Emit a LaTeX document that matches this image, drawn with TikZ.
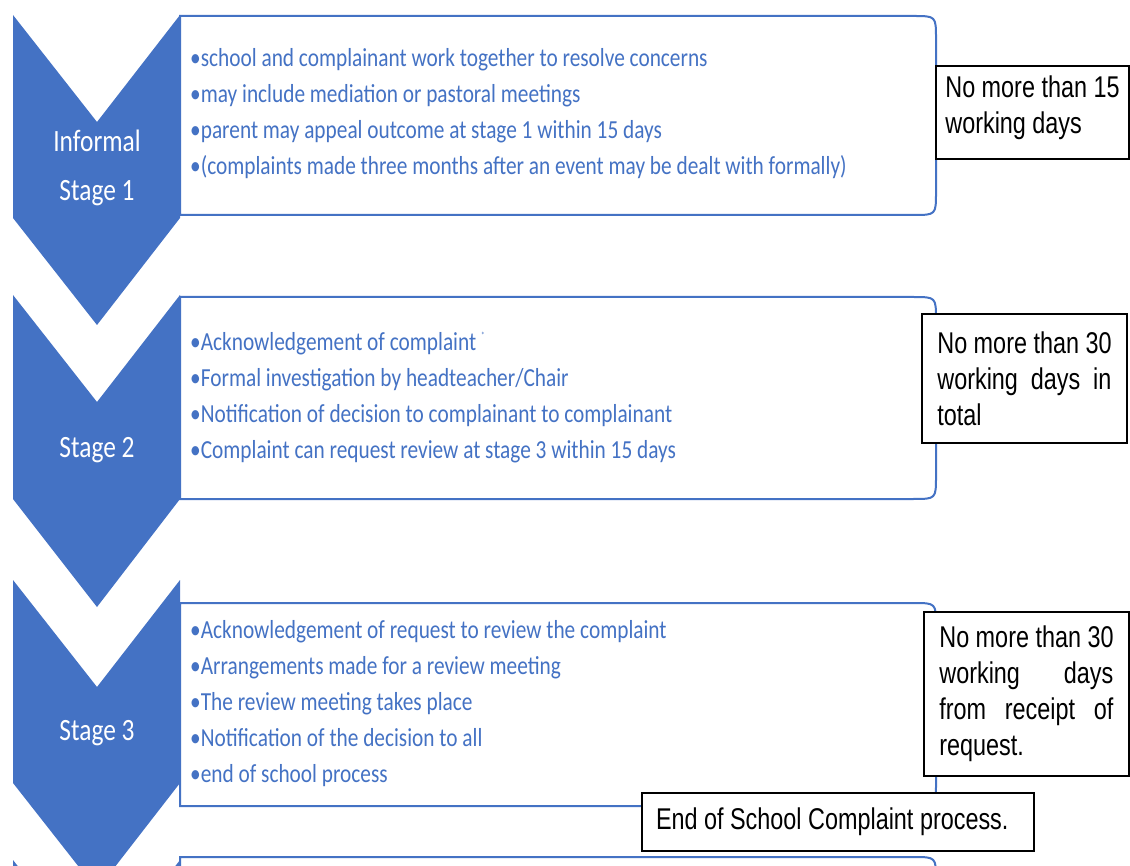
\documentclass[tikz,border=0pt]{standalone}
\usepackage{fontspec}
\setmainfont{Carlito}
\newfontfamily\stagefont[FakeStretch=0.82]{Carlito}
\newfontfamily\notefont[FakeStretch=0.78]{Liberation Sans}
\definecolor{StageBlue}{HTML}{4472C4}
\setlength{\parindent}{0pt}

\tikzstyle{Chevron}=[fill=StageBlue,draw=none]
\tikzstyle{StepBox}=[draw=StageBlue,line width=2pt,fill=white]
\tikzstyle{StepText}=[anchor=north west,inner sep=0pt,align=left,text=StageBlue,
  font=\stagefont\fontsize{26}{36}\selectfont]
\tikzstyle{StageLabel}=[text=white,align=center,font=\stagefont\fontsize{31}{49}\selectfont]
\tikzstyle{LimitBox}=[rectangle,draw=black,line width=2pt,fill=white,align=left,
  inner sep=0pt,font=\notefont\fontsize{30}{36}\selectfont]

\begin{document}
\begin{tikzpicture}[x=1pt, y=-1pt]
		\useasboundingbox (0,0) rectangle (1130,866);
		\clip (0,0) rectangle (1130,866);
		
		% Stage boxes
		\draw[StepBox] (180,16) -- (913,16) .. controls (936,16) .. (936,39)
		  -- (936,192) .. controls (936,215) .. (913,215) -- (180,215) -- cycle;
		\draw[StepBox] (180,297) -- (913,297) .. controls (936,297) .. (936,320)
		  -- (936,476) .. controls (936,499) .. (913,499) -- (180,499) -- cycle;
		\draw[StepBox] (180,603) -- (913,603) .. controls (936,603) .. (936,626)
		  -- (936,783) .. controls (936,806) .. (913,806) -- (180,806) -- cycle;
		\draw[StepBox] (180,857) -- (913,857) .. controls (936,857) .. (936,880)
		  -- (936,1060) -- (180,1060) -- cycle;
		
		% Chevrons
		\fill[Chevron] (13,15) -- (97,122) -- (180,15) -- (180,218) -- (97,325) -- (13,218) -- cycle;
		\fill[Chevron] (13,295) -- (97,402) -- (180,295) -- (180,499) -- (97,607) -- (13,499) -- cycle;
		\fill[Chevron] (13,580) -- (97,687) -- (180,580) -- (180,783) -- (97,890) -- (13,783) -- cycle;
		\fill[Chevron] (13,860) -- (97,967) -- (180,860) -- (180,1063) -- (97,1170) -- (13,1063) -- cycle;
		
		% Stage labels
		\node[StageLabel] (stage1) at (97,168) {Informal\\Stage 1};
		\node[StageLabel] (stage2) at (97,450) {Stage 2};
		\node[StageLabel] (stage3) at (97,733) {Stage 3};
		
		% Stage 1 steps
		\node[StepText] (steps1) at (190,48) {•school and complainant work together to resolve concerns\\
		  •may include mediation or pastoral meetings\\
		  •parent may appeal outcome at stage 1 within 15 days\\
		  •(complaints made three months after an event may be dealt with formally)};
		
		% Stage 2 steps
		\node[StepText] (steps2) at (190,332) {•Acknowledgement of complaint \raisebox{0.45em}{\fontsize{9}{9}\selectfont*}\\
		  •Formal investigation by headteacher/Chair\\
		  •Notification of decision to complainant to complainant\\
		  •Complaint can request review at stage 3 within 15 days};
		
		% Stage 3 steps
		\node[StepText] (steps3) at (190,620) {•Acknowledgement of request to review the complaint\\
		  •Arrangements made for a review meeting\\
		  •The review meeting takes place\\
		  •Notification of the decision to all\\
		  •end of school process};
		
		% Time limits
		\node[LimitBox, anchor=north west, minimum width=193, inner xsep=9pt, inner ysep=10pt,
		  text depth=15pt] (limit1) at (935,65) {No more than 15\\working days};
		\node[LimitBox, minimum width=205, minimum height=129] (limit2) at (1024.5,378.5)
		  {No more than 30\\\makebox[174pt][s]{working days in}\\total};
		\node[LimitBox, minimum width=205, minimum height=164] (limit3) at (1026.5,694)
		  {No more than 30\\\makebox[174pt][s]{working days}\\\makebox[174pt][s]{from receipt of}\\request.};
		
		% End of process
		\node[LimitBox, anchor=north west, inner xsep=14pt, minimum height=58]
		  (endnote) at (641,792) {\makebox[364pt][l]{End of School Complaint process.}};
		
	\end{tikzpicture}
\end{document}
